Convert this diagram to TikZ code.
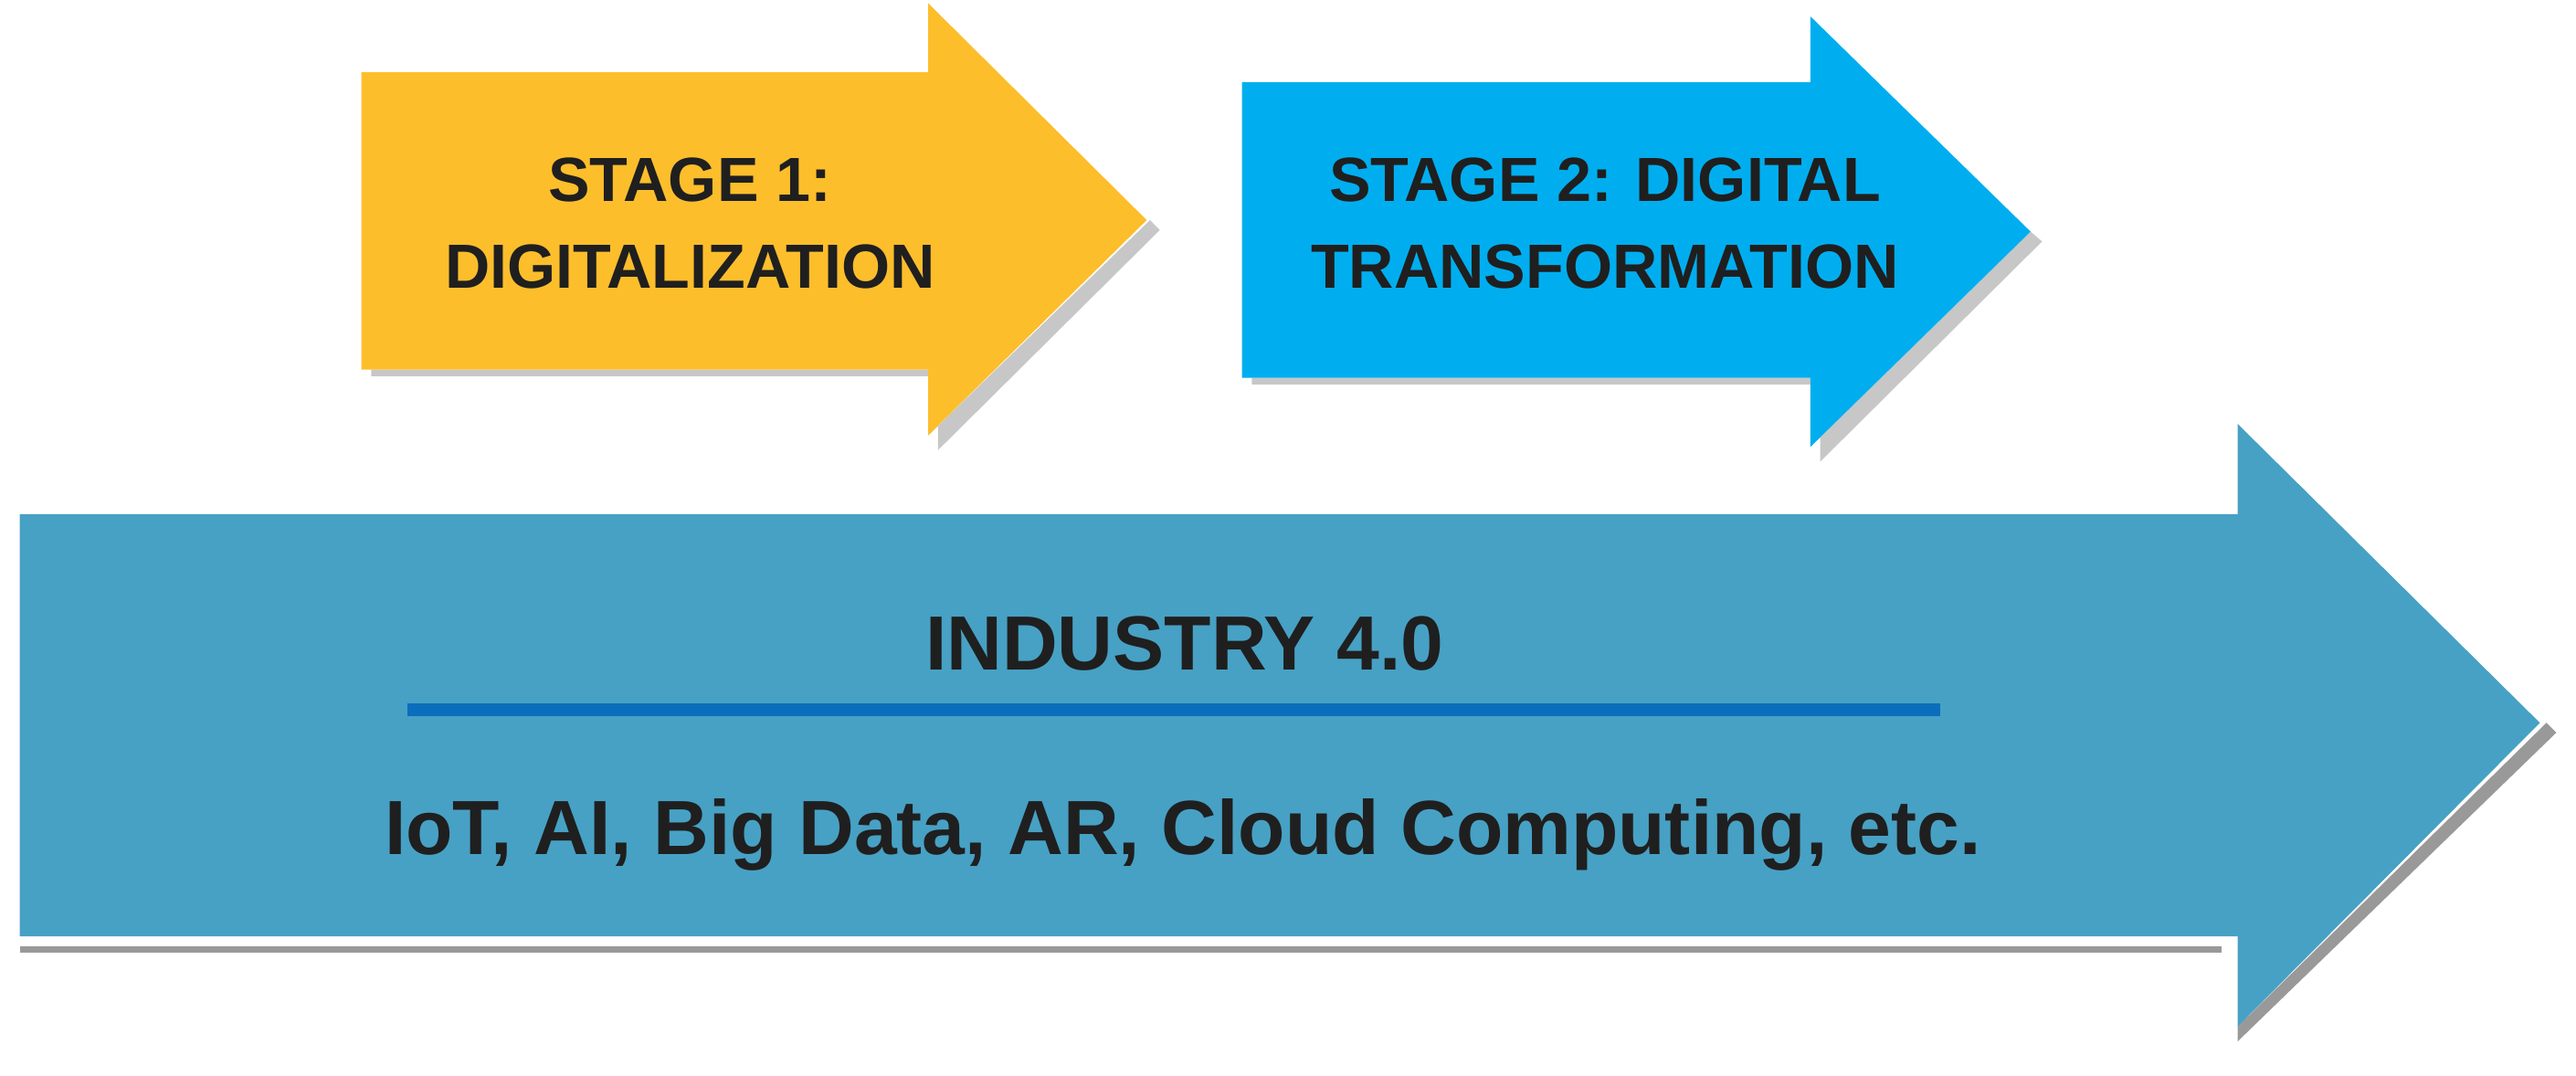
\documentclass[tikz,border=0pt]{standalone}
\usepackage{fontspec}
\setmainfont{Liberation Sans}
\begin{document}
\begin{tikzpicture}[x=0.01cm,y=-0.01cm,
  shadow/.style={fill=black!22},
  lbl/.style={font=\bfseries, text=black!88, align=center}]
\useasboundingbox (0,0) rectangle (1568,655);
% yellow
\fill[shadow] (226,229) -- (571,229) -- (571,274) -- (706,140) -- (700,134) -- (565,265) -- (565,225) -- (226,225) -- cycle;
\fill[fill={rgb,255:red,253;green,190;blue,44}] (220,44) -- (565,44) -- (565,2) -- (698,134) -- (565,265) -- (565,225) -- (220,225) -- cycle;
\node[lbl, font=\bfseries\fontsize{10.8}{15}\selectfont] (s1) at (420,136) {STAGE 1:\\DIGITALIZATION};
% cyan
\fill[shadow] (762,234) -- (1108,234) -- (1108,281) -- (1243,147) -- (1236,141) -- (1102,272) -- (1102,230) -- (762,230) -- cycle;
\fill[fill={rgb,255:red,0;green,174;blue,239}] (756,50) -- (1102,50) -- (1102,10) -- (1236,141) -- (1102,272) -- (1102,230) -- (756,230) -- cycle;
\node[lbl, font=\bfseries\fontsize{10.8}{15}\selectfont] (s2) at (977,136) {STAGE 2: DIGITAL\\TRANSFORMATION};
% big
\fill[fill=black!40] (12,576) rectangle (1352,580);
\fill[fill=black!40] (1362,634) -- (1556,446) -- (1550,440) -- (1362,625) -- cycle;
\fill[fill={rgb,255:red,71;green,161;blue,196}] (12,313) -- (1362,313) -- (1362,258) -- (1546,440) -- (1362,625) -- (1362,570) -- (12,570) -- cycle;
\node[lbl, font=\bfseries\fontsize{13.3}{16}\selectfont] (ind) at (721,392) {INDUSTRY 4.0};
\fill[fill={rgb,255:red,10;green,110;blue,189}] (248,428) rectangle (1181,436);
\node[lbl, font=\bfseries\fontsize{13.3}{16}\selectfont] (tech) at (720,508) {IoT, AI, Big Data, AR, Cloud Computing, etc.};
\end{tikzpicture}
\end{document}
